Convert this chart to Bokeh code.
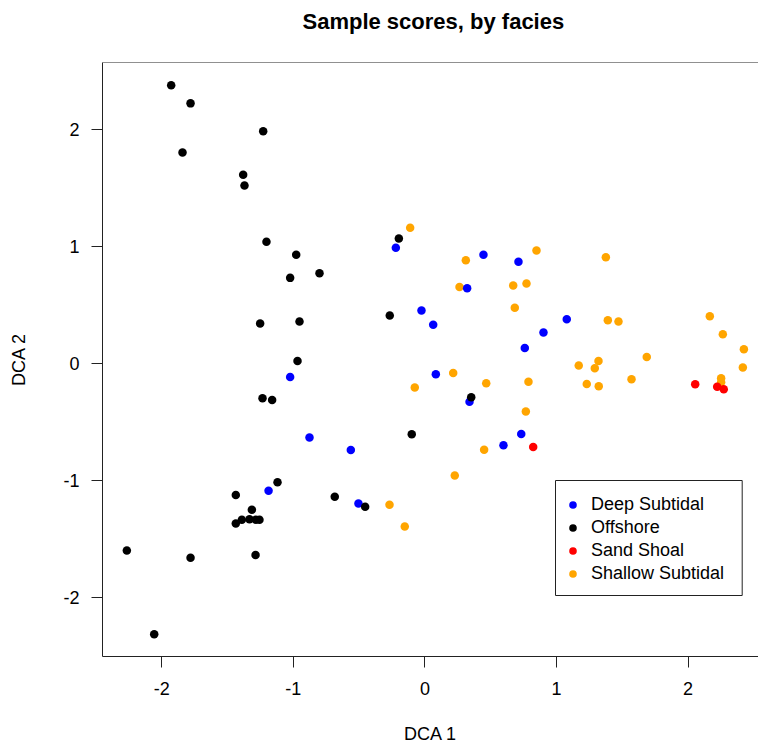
from bokeh.plotting import figure
from bokeh.models import (Range1d, Legend, LegendItem, Span, Title,
                          BoxAnnotation, FixedTicker)
from bokeh.embed import file_html
from bokeh.resources import INLINE

# DCA sample scores, grouped by facies
deep_x = [-1.024, -0.877, -0.563, -1.188, -0.505, -0.221, 0.445, 0.711, 0.321,
          -0.026, 0.063, 0.901, 0.759, 0.083, 0.339, 0.732, 0.597, 1.078]
deep_y = [-0.114, -0.630, -0.738, -1.085, -1.194, 0.989, 0.929, 0.869, 0.644,
          0.453, 0.331, 0.265, 0.134, -0.091, -0.325, -0.601, -0.698, 0.379]

off_x = [-1.928, -1.781, -1.229, -1.842, -1.381, -1.371, -1.204, -0.978, -1.024,
         -0.801, -1.252, -0.953, -0.968, -1.234, -1.161, -1.120, -1.437, -0.685,
         -1.315, -1.437, -1.391, -1.333, -1.285, -1.257, -2.265, -1.781, -1.287,
         -2.057, -0.198, -0.267, 0.352, -0.100, -0.454]
off_y = [2.376, 2.222, 1.983, 1.803, 1.613, 1.521, 1.040, 0.929, 0.732,
         0.772, 0.342, 0.359, 0.023, -0.296, -0.311, -1.014, -1.123, -1.137,
         -1.248, -1.365, -1.333, -1.330, -1.333, -1.333, -1.596, -1.658, -1.635,
         -2.310, 1.068, 0.410, -0.288, -0.604, -1.222]

shoal_x = [0.823, 2.054, 2.221, 2.271]
shoal_y = [-0.712, -0.177, -0.197, -0.219]

shallow_x = [-0.112, 0.311, 0.848, 0.263, 0.671, 0.772, 0.683, 0.215, -0.077,
             0.466, 0.787, 0.767, 0.450, 0.227, -0.269, -0.153, 1.375, 1.390,
             1.471, 2.165, 2.264, 2.424, 2.416, 1.686, 1.319, 1.291, 1.169,
             1.230, 1.321, 1.570, 2.251, 2.251]
shallow_y = [1.160, 0.883, 0.966, 0.655, 0.667, 0.684, 0.476, -0.080, -0.205,
             -0.168, -0.156, -0.410, -0.735, -0.955, -1.205, -1.390, 0.909, 0.370,
             0.359, 0.404, 0.251, 0.123, -0.034, 0.057, 0.023, -0.040, -0.017,
             -0.174, -0.194, -0.134, -0.125, -0.159]

facies = ["Deep Subtidal", "Offshore", "Sand Shoal", "Shallow Subtidal"]
colors = ["#0000FF", "#000000", "#FF0000", "#FFA500"]
ticks = [-2, -1, 0, 1, 2]
tick_labels = ["-2", "-1", "0", "1", "2"]

FONT = "Liberation Sans"

p = figure(width=758, height=746, output_backend="svg", toolbar_location=None,
           x_range=Range1d(-2.450, 2.535), y_range=Range1d(-2.501, 2.571),
           min_border_left=102, min_border_right=0,
           min_border_top=62, min_border_bottom=90)
p.outline_line_color = None
p.xgrid.grid_line_color = None
p.ygrid.grid_line_color = None

# blank gap between the title and the plot box
p.add_layout(Title(text=" ", text_font_size="1px", standoff=24), "above")

p.title.text = "Sample scores, by facies"
p.title.text_font = FONT
p.title.text_font_style = "bold"
p.title.text_font_size = "22px"
p.title.text_color = "black"
p.title.align = "left"
p.title.offset = 200
p.title.vertical_align = "top"
p.title.standoff = 0

for ax in (p.xaxis[0], p.yaxis[0]):
    ax.ticker = FixedTicker(ticks=ticks)
    ax.major_label_overrides = dict(zip(ticks, tick_labels))
    ax.major_tick_out = 11
    ax.major_tick_in = 0
    ax.minor_tick_line_color = None
    ax.major_tick_line_color = "#222222"
    ax.axis_line_color = "#222222"
    ax.major_label_text_font = FONT
    ax.major_label_text_font_size = "18px"
    ax.major_label_text_color = "black"
    ax.axis_label_text_font = FONT
    ax.axis_label_text_font_size = "18px"
    ax.axis_label_text_font_style = "normal"
    ax.axis_label_text_color = "black"

p.xaxis.axis_label = "DCA 1"
p.yaxis.axis_label = "DCA 2"
p.xaxis.major_label_standoff = 14
p.xaxis.axis_label_standoff = 26
p.yaxis.major_label_standoff = 12
p.yaxis.axis_label_standoff = 31

# top edge of the plot box
p.add_layout(Span(location=p.y_range.end, dimension="width",
                  line_color="#222222", line_width=1))

# points
r_shallow = p.scatter(shallow_x, shallow_y, size=8.5, fill_color=colors[3], line_color=None)
r_deep = p.scatter(deep_x, deep_y, size=8.5, fill_color=colors[0], line_color=None)
r_off = p.scatter(off_x, off_y, size=8.5, fill_color=colors[1], line_color=None)
r_shoal = p.scatter(shoal_x, shoal_y, size=8.5, fill_color=colors[2], line_color=None)

# legend frame, then entries on top of it
p.add_layout(BoxAnnotation(left=453, right=639.7, bottom=61, top=176,
                           left_units="screen", right_units="screen",
                           bottom_units="screen", top_units="screen",
                           fill_color="white", fill_alpha=1.0,
                           line_color="#222222", line_width=1, line_alpha=1.0))

legend = Legend(items=[LegendItem(label=facies[0], renderers=[r_deep]),
                       LegendItem(label=facies[1], renderers=[r_off]),
                       LegendItem(label=facies[2], renderers=[r_shoal]),
                       LegendItem(label=facies[3], renderers=[r_shallow])],
                location=(461, 71), glyph_width=19, glyph_height=23,
                label_height=23, spacing=0, padding=0, margin=0,
                label_standoff=9, label_width=143,
                border_line_color=None, background_fill_alpha=0,
                label_text_font=FONT, label_text_font_size="18px",
                label_text_color="black")
p.add_layout(legend)

open("out.html", "w").write(file_html(p, INLINE))
